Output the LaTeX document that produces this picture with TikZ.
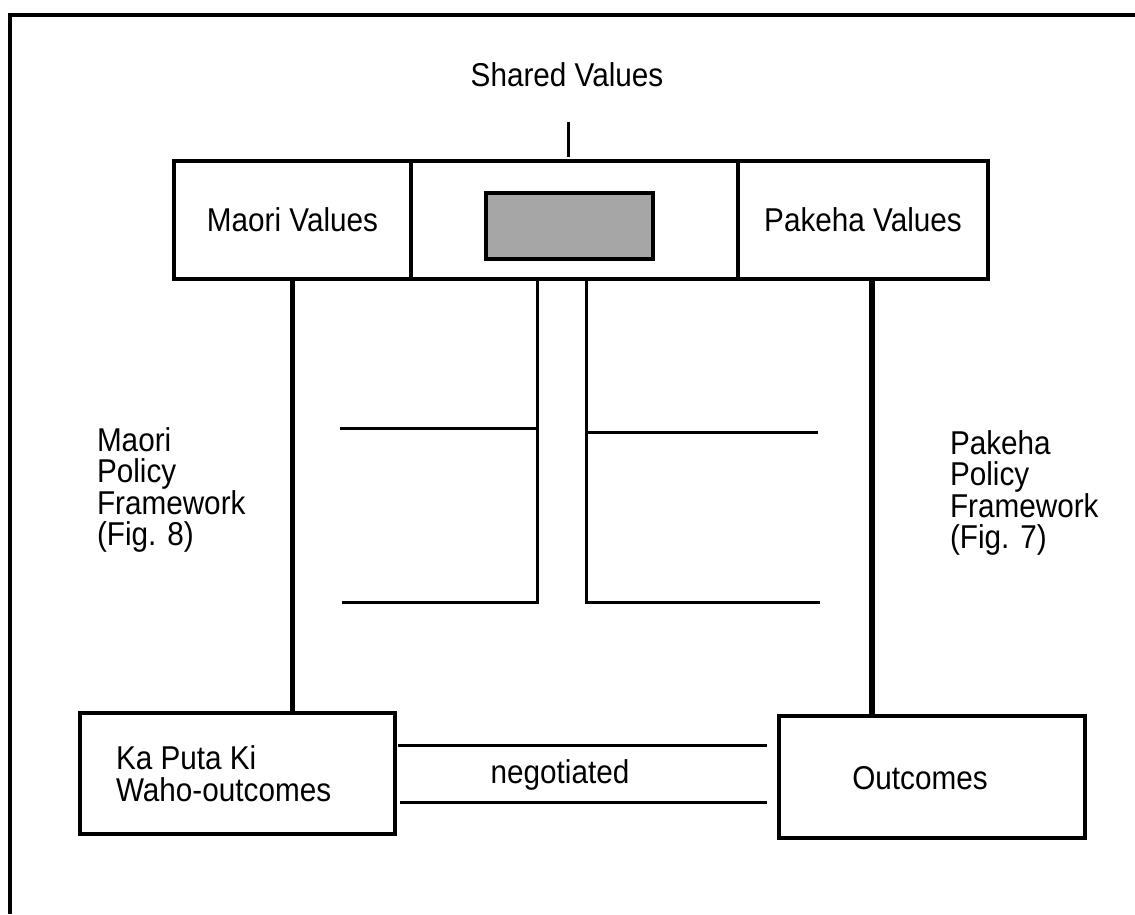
\documentclass[tikz,border=0pt]{standalone}
\usepackage{fontspec}
\setmainfont{Liberation Sans}[FakeStretch=0.9]
\begin{document}
\begin{tikzpicture}[x=1pt,y=-1pt,
  every node/.style={inner sep=0pt, outer sep=0pt, font=\fontsize{33}{31.5}\selectfont},
  valbox/.style={draw, line width=3.2pt, minimum height=118pt},
  outbox/.style={draw, line width=3.2pt, minimum height=121pt},
  heavy/.style={line width=5.5pt},
  thin/.style={line width=3pt},
  sidelabel/.style={align=left, anchor=west}]
\useasboundingbox (0,0) rectangle (1135,914);

% open frame: top edge and left edge
\coordinate (ftl) at (10,15);
\coordinate (ftr) at (1135,15);
\coordinate (fbl) at (10,914);
\draw[line width=3.2pt] (ftr) -- (ftl) -- (fbl);

% value boxes
\node[valbox, minimum width=237pt] (maori) at (292.5,220) {Maori Values};
\node[valbox, minimum width=327pt] (mid) at (574.5,220) {};
\node[valbox, minimum width=250pt] (pakeha) at (863,220) {Pakeha Values};
\node[draw, line width=3.2pt, fill=black!35, minimum width=167pt, minimum height=66pt] (shade) at (569.5,226) {};

% shared values label and tick
\node (shared) at (567,75) {Shared Values};
\coordinate (tickTop) at (568,122);
\coordinate (tickBot) at (568,157);
\draw[line width=3pt] (tickTop) -- (tickBot);

% outcome boxes
\node[outbox, minimum width=315pt] (kaputa) at (237.5,773.5) {};
\node[align=left, anchor=west, font=\fontsize{33}{32}\selectfont] (kaputatxt) at (116,774) {Ka Puta Ki\\Waho-outcomes};
\node[outbox, minimum width=306pt, minimum height=122pt] (outc) at (932,777) {};
\node (outctxt) at (920,778) {Outcomes};

% policy framework labels
\node[sidelabel] (mpf) at (97,490) {Maori\\Policy\\Framework\\(Fig. 8)};
\node[sidelabel] (ppf) at (950,493) {Pakeha\\Policy\\Framework\\(Fig. 7)};

% heavy verticals from values down to outcomes
\draw[heavy] (maori.south) -- (maori.south |- kaputa.north);
\coordinate (pk) at (872,279);
\draw[heavy] (pk) -- (pk |- outc.north);

% central stem with its side arms
\coordinate (stemL) at (537,280);
\coordinate (stemR) at (586,280);
\coordinate (stemLb) at (537,602);
\coordinate (stemRb) at (586,602);
\coordinate (armLt) at (340,428);
\coordinate (armLb) at (342,602);
\coordinate (armRt) at (818,432);
\coordinate (armRb) at (820,602);
\draw[thin] (stemL) -- (stemLb) -- (armLb);
\draw[thin] (stemR) -- (stemRb) -- (armRb);
\draw[thin] (armLt) -- (armLt -| stemL);
\draw[thin] (stemR |- armRt) -- (armRt);

% negotiated channel
\coordinate (nUL) at (398,745);
\coordinate (nUR) at (767,745);
\coordinate (nLL) at (400,802);
\coordinate (nLR) at (767,802);
\draw[thin] (nUL) -- (nUR);
\draw[thin] (nLL) -- (nLR);
\node (neg) at (560,775) {negotiated};
\end{tikzpicture}
\end{document}
